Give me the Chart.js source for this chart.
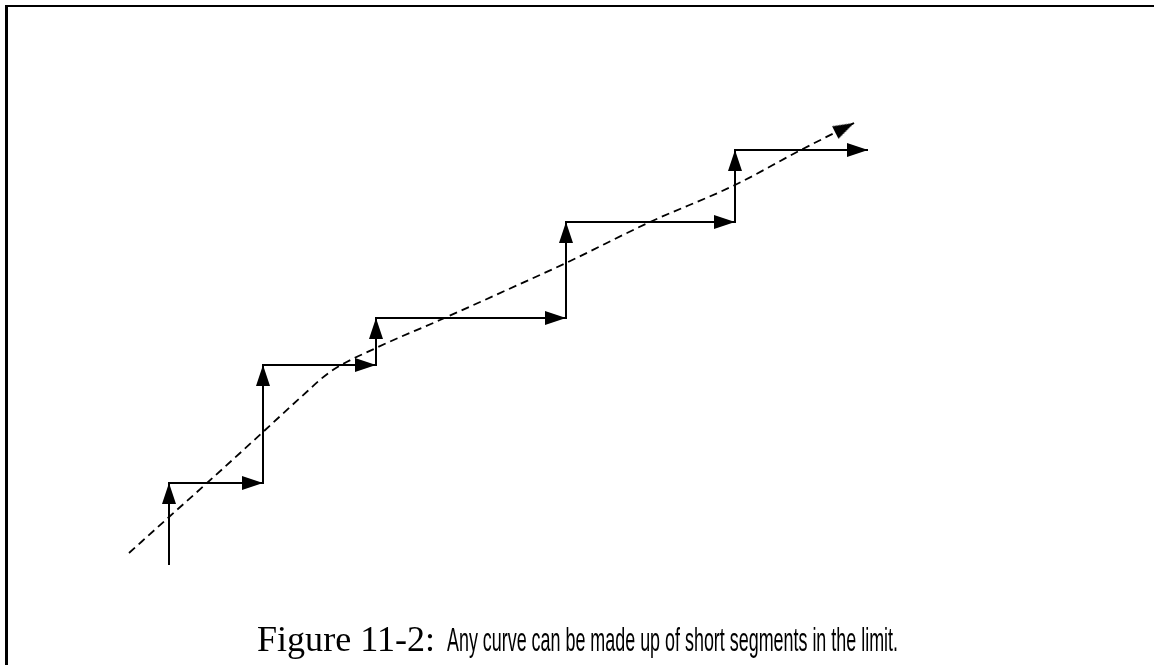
<!DOCTYPE html>
<html>
<head>
<meta charset="utf-8">
<script src="https://cdn.jsdelivr.net/npm/chart.js@4/dist/chart.umd.min.js"></script>
<style>
  html, body { margin: 0; padding: 0; background: #fff; }
  #wrap { position: relative; width: 1154px; height: 665px; overflow: hidden; }
  #frame { position: absolute; left: 5px; top: 5px; right: -10px; bottom: -10px;
           border-top: 2px solid #000; border-left: 3px solid #000; }
  #chart { position: absolute; left: 0; top: 0; }
  .cap { position: absolute; white-space: nowrap; transform-origin: 0 0; color: #000; }
  #capA { left: 257px; top: 621px; font-size: 36px; line-height: 36px;
          font-family: "Liberation Serif", serif; }
  #capB { left: 447px; top: 623px; font-size: 33px; line-height: 33px;
          font-family: "Liberation Sans", sans-serif; }
</style>
</head>
<body>
<div id="wrap">
  <div id="frame"></div>
  <canvas id="chart" width="1154" height="665"></canvas>
  <span class="cap" id="capA">Figure 11-2:</span>
  <span class="cap" id="capB">Any curve can be made up of short segments in the limit.</span>
</div>
<script>
// staircase of short segments (x right, y down)
const stepX = [169, 169, 263, 263, 376, 376, 566, 566, 735, 735, 868];
const stepY = [565, 483, 483, 365, 365, 318, 318, 222, 222, 150, 150];

// the dashed curve they approximate
const curveX = [129, 169, 207, 263, 300, 330, 376, 440, 520, 566, 650, 735, 797, 854];
const curveY = [553, 517, 483, 432, 398, 372, 348, 320, 284, 263, 222, 185, 152, 123];

const toPoints = (xs, ys) => xs.map((x, i) => ({ x: x, y: ys[i] }));

// arrowhead drawn pointing up, tip at the centre of the image
function makeArrow(w, len) {
  const c = document.createElement('canvas');
  c.width = w;
  c.height = len * 2;
  const g = c.getContext('2d');
  g.fillStyle = '#000';
  g.beginPath();
  g.moveTo(w / 2, len);
  g.lineTo(w, len * 2);
  g.lineTo(0, len * 2);
  g.closePath();
  g.fill();
  return c;
}
const arrow = makeArrow(14, 21);

// direction of the segment that ends at this point
function arrowRotation(ctx) {
  const i = ctx.dataIndex;
  if (i === 0) return 0;
  const data = ctx.dataset.data;
  const sx = ctx.chart.scales.x, sy = ctx.chart.scales.y;
  const dx = sx.getPixelForValue(data[i].x) - sx.getPixelForValue(data[i - 1].x);
  const dy = sy.getPixelForValue(data[i].y) - sy.getPixelForValue(data[i - 1].y);
  return Math.atan2(dx, -dy) * 180 / Math.PI;
}

new Chart(document.getElementById('chart'), {
  type: 'scatter',
  data: {
    datasets: [{
      label: 'segments',
      data: toPoints(stepX, stepY),
      showLine: true,
      borderColor: '#000',
      borderWidth: 2,
      tension: 0,
      pointStyle: arrow,
      pointRadius: ctx => ctx.dataIndex === 0 ? 0 : 10,
      rotation: arrowRotation
    }, {
      label: 'curve',
      data: toPoints(curveX, curveY),
      showLine: true,
      borderColor: '#000',
      borderWidth: 1.8,
      borderDash: [8, 5],
      cubicInterpolationMode: 'monotone',
      pointStyle: arrow,
      pointRadius: ctx => ctx.dataIndex === curveX.length - 1 ? 10 : 0,
      rotation: arrowRotation
    }]
  },
  options: {
    responsive: false,
    animation: false,
    events: [],
    layout: { padding: 0, autoPadding: false },
    plugins: { legend: { display: false }, tooltip: { enabled: false } },
    scales: {
      x: { type: 'linear', min: 0, max: 1154, display: false },
      y: { type: 'linear', min: 0, max: 665, reverse: true, display: false }
    }
  }
});

// squeeze caption pieces to the widths they have in the figure
function fitCaption(id, target) {
  const el = document.getElementById(id);
  const w = el.getBoundingClientRect().width;
  el.style.transform = 'scaleX(' + (target / w) + ')';
}
fitCaption('capA', 178);
fitCaption('capB', 451);
</script>
</body>
</html>
